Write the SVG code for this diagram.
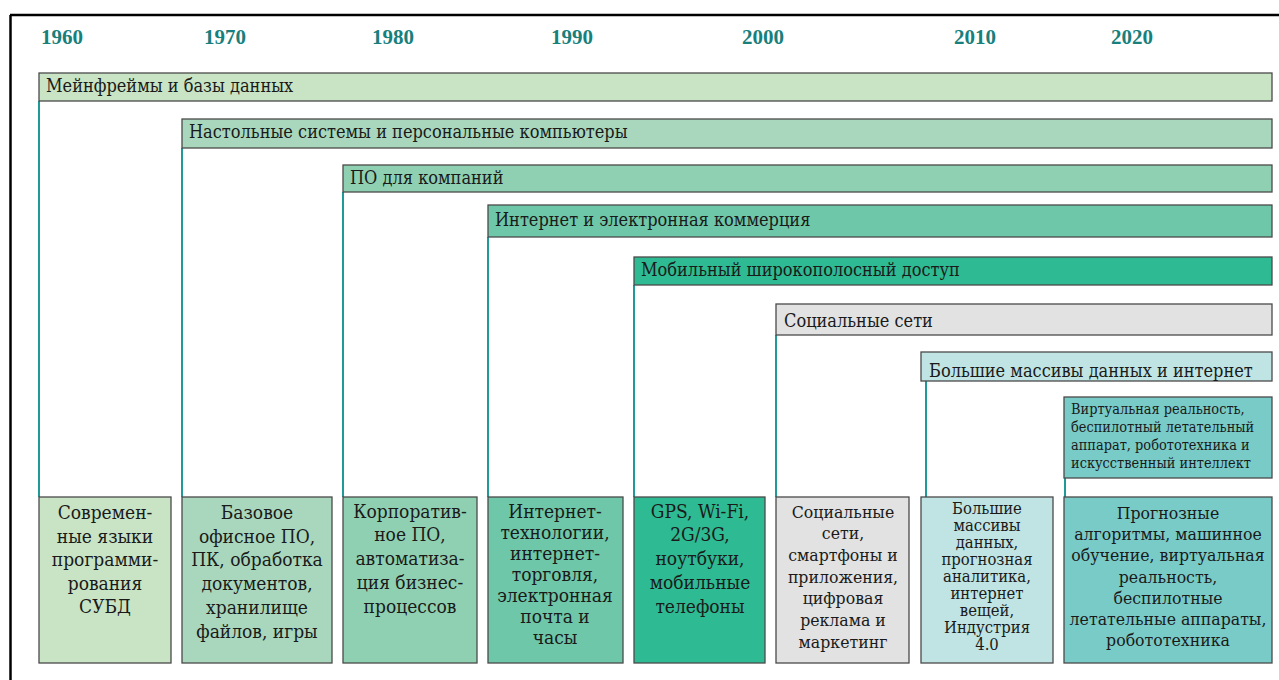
<svg xmlns="http://www.w3.org/2000/svg" width="1279" height="680" viewBox="0 0 1279 680">
<style>
.yr{font-family:"Liberation Serif",serif;font-weight:bold;font-size:21px;fill:#17807c;text-anchor:middle}
.band{stroke:#4a4a4a;stroke-width:1.3}
.bt{font-family:"DejaVu Serif",serif;font-stretch:condensed;font-size:18px;fill:#1a1a1a}
.vt{font-family:"DejaVu Serif",serif;font-stretch:condensed;font-size:14.4px;fill:#1a1a1a}
.box{stroke:#4a4a4a;stroke-width:1.3}
.xt{font-family:"DejaVu Serif",serif;font-stretch:condensed;font-size:19px;fill:#1a1a1a;text-anchor:middle}
.st{font-size:17.5px}
.tt{font-size:16.5px}
.conn{stroke:#1f9a98;stroke-width:2;fill:none}
</style>
<rect width="1279" height="680" fill="#ffffff"/>
<g id="frame" stroke="#000" stroke-width="2.5" fill="none">
<line x1="10" y1="15" x2="1279" y2="15"/>
<line x1="10.5" y1="15" x2="10.5" y2="680"/>
</g>
<g id="years">
<text class="yr" x="62" y="44">1960</text>
<text class="yr" x="225" y="44">1970</text>
<text class="yr" x="393" y="44">1980</text>
<text class="yr" x="572" y="44">1990</text>
<text class="yr" x="763" y="44">2000</text>
<text class="yr" x="975" y="44">2010</text>
<text class="yr" x="1132" y="44">2020</text>
</g>
<g id="connectors">
<line class="conn" x1="39" y1="101" x2="39" y2="497"/>
<line class="conn" x1="182" y1="148" x2="182" y2="497"/>
<line class="conn" x1="343" y1="192" x2="343" y2="497"/>
<line class="conn" x1="488" y1="237" x2="488" y2="497"/>
<line class="conn" x1="634" y1="285" x2="634" y2="497"/>
<line class="conn" x1="776" y1="335" x2="776" y2="497"/>
<line class="conn" x1="926" y1="381" x2="926" y2="497"/>
<line class="conn" x1="1065" y1="478" x2="1065" y2="497"/>
</g>
<g id="band1"><rect class="band" x="39" y="73" width="1233" height="28" fill="#c8e4c4"/><text class="bt" x="46" y="92">Мейнфреймы и базы данных</text></g>
<g id="band2"><rect class="band" x="182" y="119" width="1090" height="29" fill="#a8d7bd"/><text class="bt" x="189" y="138">Настольные системы и персональные компьютеры</text></g>
<g id="band3"><rect class="band" x="343" y="165" width="929" height="27" fill="#8fd0b2"/><text class="bt" x="350" y="184">ПО для компаний</text></g>
<g id="band4"><rect class="band" x="488" y="205" width="784" height="32" fill="#6ec7a8"/><text class="bt" x="495" y="226">Интернет и электронная коммерция</text></g>
<g id="band5"><rect class="band" x="634" y="257" width="638" height="28" fill="#2eba92"/><text class="bt" x="641" y="276">Мобильный широкополосный доступ</text></g>
<g id="band6"><rect class="band" x="776" y="304" width="496" height="31" fill="#e1e2e1"/><text class="bt" x="784" y="327">Социальные сети</text></g>
<g id="band7"><rect class="band" x="921" y="352" width="351" height="29" fill="#bfe4e3"/><text class="bt" x="929" y="377">Большие массивы данных и  интернет</text></g>
<g id="band8"><rect class="band" x="1064" y="397" width="208" height="81" fill="#79cbc8"/>
<text class="vt" x="1071" y="414">Виртуальная реальность,</text>
<text class="vt" x="1071" y="432">беспилотный летательный</text>
<text class="vt" x="1071" y="450">аппарат, робототехника и</text>
<text class="vt" x="1071" y="468">искусственный интеллект</text>
</g>
<g id="box1"><rect class="box" x="39" y="497" width="132" height="166" fill="#c8e4c4"/>
<text class="xt" x="105" y="519">Современ-</text><text class="xt" x="105" y="543">ные языки</text><text class="xt" x="105" y="566">программи-</text><text class="xt" x="105" y="590">рования</text><text class="xt" x="105" y="613">СУБД</text></g>
<g id="box2"><rect class="box" x="182" y="497" width="150" height="166" fill="#a8d7bd"/>
<text class="xt" x="257" y="519">Базовое</text><text class="xt" x="257" y="543">офисное ПО,</text><text class="xt" x="257" y="566">ПК, обработка</text><text class="xt" x="257" y="590">документов,</text><text class="xt" x="257" y="614">хранилище</text><text class="xt" x="257" y="638">файлов, игры</text></g>
<g id="box3"><rect class="box" x="343" y="497" width="134" height="166" fill="#8fd0b2"/>
<text class="xt" x="410" y="518">Корпоратив-</text><text class="xt" x="410" y="541">ное ПО,</text><text class="xt" x="410" y="565">автоматиза-</text><text class="xt" x="410" y="589">ция бизнес-</text><text class="xt" x="410" y="613">процессов</text></g>
<g id="box4"><rect class="box" x="488" y="497" width="135" height="166" fill="#6ec7a8"/>
<text class="xt" x="555" y="518">Интернет-</text><text class="xt" x="555" y="539">технологии,</text><text class="xt" x="555" y="560">интернет-</text><text class="xt" x="555" y="581">торговля,</text><text class="xt" x="555" y="602">электронная</text><text class="xt" x="555" y="623">почта и</text><text class="xt" x="555" y="644">часы</text></g>
<g id="box5"><rect class="box" x="634" y="497" width="131" height="166" fill="#2eba92"/>
<text class="xt" x="700" y="518">GPS, Wi-Fi,</text><text class="xt" x="700" y="541">2G/3G,</text><text class="xt" x="700" y="565">ноутбуки,</text><text class="xt" x="700" y="589">мобильные</text><text class="xt" x="700" y="613">телефоны</text></g>
<g id="box6"><rect class="box" x="776" y="497" width="133" height="166" fill="#e1e2e1"/>
<text class="xt st" x="843" y="518">Социальные</text><text class="xt st" x="843" y="539">сети,</text><text class="xt st" x="843" y="561">смартфоны и</text><text class="xt st" x="843" y="583">приложения,</text><text class="xt st" x="843" y="604">цифровая</text><text class="xt st" x="843" y="626">реклама и</text><text class="xt st" x="843" y="648">маркетинг</text></g>
<g id="box7"><rect class="box" x="921" y="497" width="132" height="166" fill="#bfe4e3"/>
<text class="xt tt" x="987" y="514">Большие</text><text class="xt tt" x="987" y="531">массивы</text><text class="xt tt" x="987" y="548">данных,</text><text class="xt tt" x="987" y="565">прогнозная</text><text class="xt tt" x="987" y="582">аналитика,</text><text class="xt tt" x="987" y="599">интернет</text><text class="xt tt" x="987" y="616">вещей,</text><text class="xt tt" x="987" y="633">Индустрия</text><text class="xt tt" x="987" y="650">4.0</text></g>
<g id="box8"><rect class="box" x="1064" y="497" width="208" height="166" fill="#79cbc8"/>
<text class="xt st" x="1168" y="519">Прогнозные</text><text class="xt st" x="1168" y="540">алгоритмы, машинное</text><text class="xt st" x="1168" y="561">обучение, виртуальная</text><text class="xt st" x="1168" y="583">реальность,</text><text class="xt st" x="1168" y="604">беспилотные</text><text class="xt st" x="1168" y="625">летательные аппараты,</text><text class="xt st" x="1168" y="646">робототехника</text></g>
</svg>
